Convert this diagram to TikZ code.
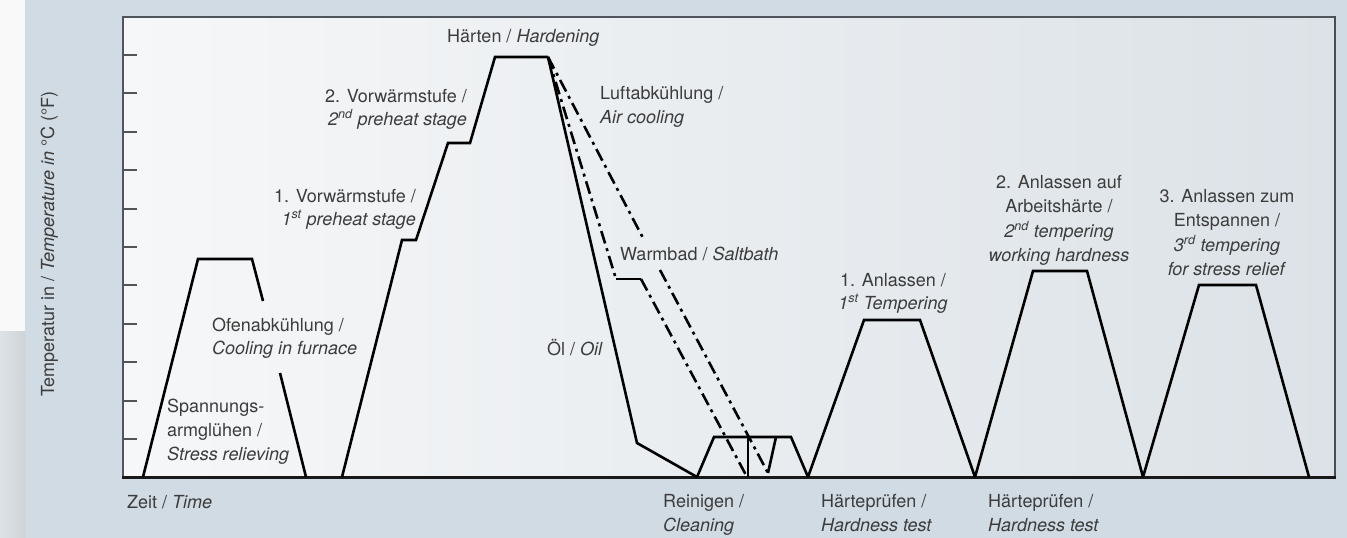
\documentclass[tikz,border=0pt]{standalone}
\usepackage{fontspec}
\setmainfont{TeX Gyre Heros}
\definecolor{bg}{RGB}{208,219,228}
\definecolor{plotL}{RGB}{246,247,248}
\definecolor{plotR}{RGB}{220,226,231}
\definecolor{stripW}{RGB}{249,249,249}
\definecolor{stripG}{RGB}{218,223,228}
\definecolor{frame}{RGB}{80,85,92}
\definecolor{txt}{RGB}{60,60,60}
\tikzset{
  lbl/.style={inner sep=0pt, text=txt, font=\fontsize{18}{21}\selectfont},
  curve/.style={line width=2.6pt, black, line join=miter},
  dashdot/.style={curve, dash pattern=on 13pt off 5pt on 3pt off 5pt},
  tick/.style={line width=2pt, frame}
}
\begin{document}
\begin{tikzpicture}[x=1pt,y=-1pt]
\useasboundingbox (0,0) rectangle (1347,538);
% background
\fill[bg] (0,0) rectangle (1347,538);
\fill[stripW] (0,0) rectangle (25,331);
\shade[left color=stripG!90!white, right color=stripG!95!black] (0,331) rectangle (25,538);
% plot area
\shade[left color=plotL, right color=plotR] (123,17) rectangle (1335,477);
\draw[line width=2pt, frame] (123,477) -- (123,17) -- (1335,17);
\draw[line width=2.6pt, frame!90!black] (1335,16) -- (1335,477);
\foreach \k in {0,...,10} \draw[tick] (123,{55+38.4*\k}) -- (137,{55+38.4*\k});
\draw[line width=3.2pt, black!90] (122,477.5) -- (1336,477.5);

% stress relieving
\draw[curve] (143,477) -- (198,259) -- (252,259) -- (263,301);
\draw[curve] (280,373) -- (306,477);
% preheat + hardening
\draw[curve] (342,477) -- (402,240) -- (416,240) -- (448,143) -- (470,143) -- (495,57) -- (548,57);
% oil
\draw[curve] (548,57) -- (637,443) -- (697,477);
% salt bath
\draw[dashdot] (548,57) -- (616,279);
\draw[curve] (616,279) -- (641,279);
\draw[dashdot] (641,279) -- (747,477);
% air cooling
\draw[dashdot] (548,57) -- (643,238);
\draw[dashdot] (660,270) -- (768,473);
% cleaning
\draw[curve] (697,477) -- (714,437) -- (791,437) -- (808,477);
\draw[curve] (748,437) -- (748,477);
\draw[curve] (768,473) -- (776,437);
% tempering
\draw[curve] (808,477) -- (864,320) -- (920,320) -- (975,477);
\draw[curve] (975,477) -- (1033,271) -- (1087,271) -- (1143,477);
\draw[curve] (1143,477) -- (1199,285) -- (1256,285) -- (1309,477);

% labels
\node[lbl, rotate=90, anchor=base west] (ylab) at (54,397) {Temperatur in / \textit{Temperature in} °C (°F)};
\node[lbl, anchor=base west] (zeit) at (127,508) {Zeit / \textit{Time}};
\node[lbl, anchor=base west] (hard) at (447,42) {Härten / \textit{Hardening}};
\node[lbl, anchor=base east] (pv2a) at (467,102) {2. Vorwärmstufe /};
\node[lbl, anchor=base east] (pv2b) at (467,125) {\textit{2\textsuperscript{nd} preheat stage}};
\node[lbl, anchor=base east] (pv1a) at (416,202) {1. Vorwärmstufe /};
\node[lbl, anchor=base east] (pv1b) at (416,225) {\textit{1\textsuperscript{st} preheat stage}};
\node[lbl, anchor=base west] (aira) at (600,99) {Luftabkühlung /};
\node[lbl, anchor=base west] (airb) at (600,123) {\textit{Air cooling}};
\node[lbl, anchor=base west] (salt) at (620,260) {Warmbad / \textit{Saltbath}};
\node[lbl, anchor=base east] (oil) at (603,355) {Öl / \textit{Oil}};
\node[lbl, anchor=base west] (ofa) at (212,331) {Ofenabkühlung /};
\node[lbl, anchor=base west] (ofb) at (212,354) {\textit{Cooling in furnace}};
\node[lbl, anchor=base west] (sra) at (167,412) {Spannungs-};
\node[lbl, anchor=base west] (srb) at (167,436) {armglühen /};
\node[lbl, anchor=base west] (src) at (167,460) {\textit{Stress relieving}};
\node[lbl, anchor=base] (t1a) at (893,286) {1. Anlassen /};
\node[lbl, anchor=base] (t1b) at (893,309) {\textit{1\textsuperscript{st} Tempering}};
\node[lbl, anchor=base] (t2a) at (1059,188) {2. Anlassen auf};
\node[lbl, anchor=base] (t2b) at (1059,212) {Arbeitshärte /};
\node[lbl, anchor=base] (t2c) at (1059,237) {\textit{2\textsuperscript{nd} tempering}};
\node[lbl, anchor=base] (t2d) at (1059,261) {\textit{working hardness}};
\node[lbl, anchor=base] (t3a) at (1227,202) {3. Anlassen zum};
\node[lbl, anchor=base] (t3b) at (1227,226) {Entspannen /};
\node[lbl, anchor=base] (t3c) at (1227,251) {\textit{3\textsuperscript{rd} tempering}};
\node[lbl, anchor=base] (t3d) at (1227,275) {\textit{for stress relief}};
\node[lbl, anchor=base west] (cla) at (663,507) {Reinigen /};
\node[lbl, anchor=base west] (clb) at (663,531) {\textit{Cleaning}};
\node[lbl, anchor=base west] (h1a) at (821,507) {Härteprüfen /};
\node[lbl, anchor=base west] (h1b) at (821,531) {\textit{Hardness test}};
\node[lbl, anchor=base west] (h2a) at (988,507) {Härteprüfen /};
\node[lbl, anchor=base west] (h2b) at (988,531) {\textit{Hardness test}};
\end{tikzpicture}
\end{document}
